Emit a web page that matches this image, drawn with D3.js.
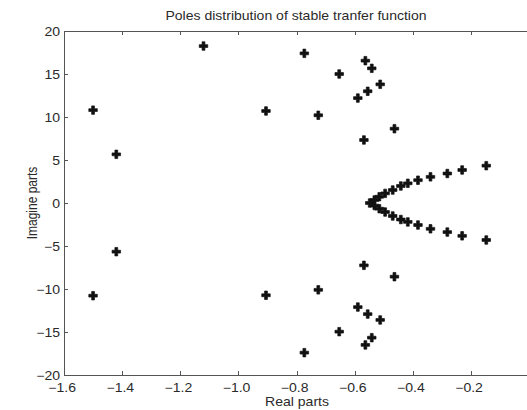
<!DOCTYPE html>
<html lang="en">
<head>
  <meta charset="UTF-8">
  <title>Poles distribution</title>
  <script src="https://d3js.org/d3.v7.min.js"></script>
  <style>
    body { margin: 0; background: #fff; }
    svg { display: block; background: #fff; }
    .axis path, .axis line { stroke: #555; shape-rendering: crispEdges; }
    .axis text, .label { font-family: "Liberation Sans", Arial, sans-serif; font-size: 12px; fill: #2a2a2a; }
  </style>
</head>
<body>
  <svg width="527" height="410"></svg>
  <script>
    // poles (real part, imaginary part)
    const realParts = [
      -1.50, -1.42, -1.12, -0.905, -0.773, -0.653, -0.725, -0.563, -0.541, -0.512, -0.555, -0.589, -0.463, -0.568,
      -0.147, -0.230, -0.281, -0.339, -0.382, -0.417, -0.441, -0.469, -0.495, -0.515, -0.532, -0.548,
      -0.532, -0.515, -0.495, -0.469, -0.441, -0.417, -0.382, -0.339, -0.281, -0.230, -0.147,
      -1.50, -1.42, -0.905, -0.773, -0.653, -0.725, -0.563, -0.541, -0.512, -0.555, -0.589, -0.463, -0.568
    ];
    const imagParts = [
      10.80, 5.66, 18.25, 10.70, 17.40, 15.00, 10.20, 16.55, 15.66, 13.80, 12.99, 12.20, 8.64, 7.33,
      4.34, 3.84, 3.43, 3.04, 2.65, 2.29, 1.98, 1.51, 1.12, 0.73, 0.35, 0.0,
      -0.30, -0.66, -1.05, -1.51, -1.92, -2.20, -2.56, -3.00, -3.38, -3.82, -4.30,
      -10.78, -5.66, -10.73, -17.40, -14.96, -10.10, -16.50, -15.66, -13.60, -12.92, -12.10, -8.57, -7.25
    ];
    const xTicks = [-1.6, -1.4, -1.2, -1, -0.8, -0.6, -0.4, -0.2];
    const yTicks = [-20, -15, -10, -5, 0, 5, 10, 15, 20];

    const width = 527, height = 410;
    const margin = { top: 31, right: -2, bottom: 35, left: 64 };
    const stretch = 1.17; // the picture's text is a bit wider than tall

    const svg = d3.select("svg");

    const x = d3.scaleLinear().domain([-1.6, 0]).range([margin.left, width - margin.right]);
    const y = d3.scaleLinear().domain([-20, 20]).range([height - margin.bottom, margin.top]);

    // bottom axis
    const gx = svg.append("g")
      .attr("class", "axis")
      .attr("transform", `translate(0,${y(-20)})`)
      .call(d3.axisBottom(x).tickValues(xTicks).tickSizeInner(-4).tickSizeOuter(0));
    gx.selectAll("text")
      .attr("y", 17).attr("dy", 0).attr("x", -2)
      .attr("transform", `scale(${stretch},1)`);

    // top axis (no labels)
    svg.append("g")
      .attr("class", "axis")
      .attr("transform", `translate(0,${y(20)})`)
      .call(d3.axisTop(x).tickValues(xTicks).tickSizeInner(-4).tickSizeOuter(0).tickFormat(""));

    // left axis
    const gy = svg.append("g")
      .attr("class", "axis")
      .attr("transform", `translate(${x(-1.6)},0)`)
      .call(d3.axisLeft(y).tickValues(yTicks).tickSizeInner(-4).tickSizeOuter(0));
    gy.selectAll("text")
      .attr("x", -4 / stretch).attr("dy", "0.36em")
      .attr("transform", `scale(${stretch},1)`);

    // poles
    const poles = realParts.map((r, i) => ({ re: r, im: imagParts[i] }));
    svg.append("g")
      .selectAll("path")
      .data(poles)
      .join("path")
      .attr("transform", d => `translate(${x(d.re)},${y(d.im)})`)
      .attr("d", d3.symbol(d3.symbolCross, 40))
      .attr("fill", "#111")
      .attr("stroke", "#111")
      .attr("stroke-width", 0.7)
      .attr("stroke-linejoin", "round");

    // title and axis labels
    svg.append("text")
      .attr("class", "label")
      .attr("text-anchor", "middle")
      .attr("transform", `translate(296,20) scale(${stretch},1)`)
      .text("Poles distribution of stable tranfer function");

    svg.append("text")
      .attr("class", "label")
      .attr("text-anchor", "middle")
      .attr("transform", `translate(297,406) scale(${stretch},1)`)
      .text("Real parts");

    svg.append("text")
      .attr("class", "label")
      .attr("text-anchor", "middle")
      .attr("transform", `translate(37,203) rotate(-90) scale(1,${stretch})`)
      .text("Imagine parts");
  </script>
</body>
</html>
